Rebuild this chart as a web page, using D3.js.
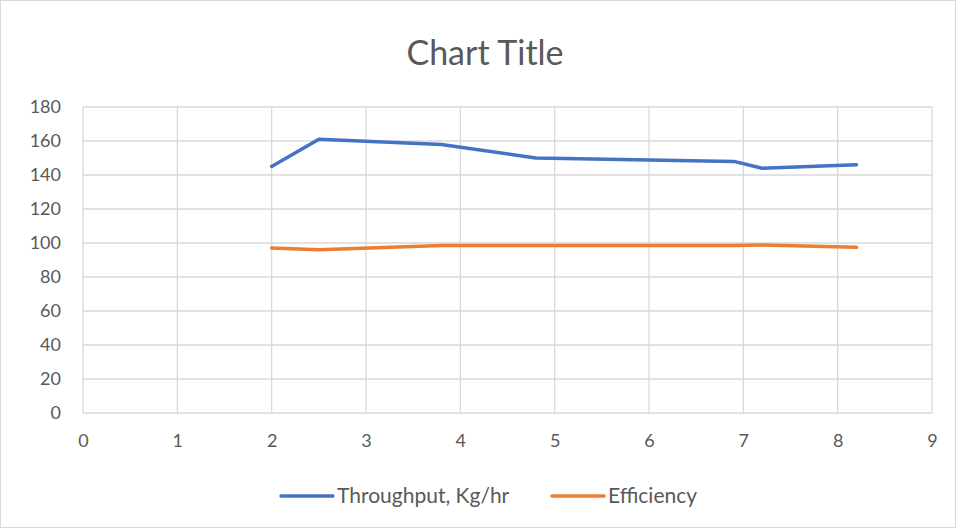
<!DOCTYPE html>
<html><head><meta charset="utf-8">
<script src="https://cdn.jsdelivr.net/npm/d3@7/dist/d3.min.js"></script>
<style>html,body{margin:0;padding:0;background:#fff;}svg{display:block;}</style>
</head><body>
<svg id="c" width="957" height="530"></svg>
<script>
const xValues = [2, 2.5, 3.8, 4.8, 6.9, 7.2, 8.2];
const throughput = [145, 161, 158, 150, 148, 144, 146];
const efficiency = [97, 96, 98.5, 98.5, 98.6, 98.8, 97.5];
const xTicks = [0,1,2,3,4,5,6,7,8,9];
const yTicks = [0,20,40,60,80,100,120,140,160,180];
const seriesNames = ["Throughput, Kg/hr", "Efficiency"];
const colors = ["#4472C4", "#ED7D31"];

const svg = d3.select("#c");
const font = "Lato, 'Open Sans', sans-serif";
svg.append("rect").attr("x",0.5).attr("y",0.5).attr("width",955).attr("height",527)
  .attr("fill","#fff").attr("stroke","#d9d9d9");

const x = d3.scaleLinear().domain([0,9]).range([83,932]);
const y = d3.scaleLinear().domain([0,180]).range([413,107]);

const g = svg.append("g");
g.selectAll(".vg").data(xTicks).join("line")
  .attr("x1",d=>x(d)).attr("x2",d=>x(d)).attr("y1",y(0)).attr("y2",y(180))
  .attr("stroke","#d9d9d9").attr("stroke-width",1.3);
g.selectAll(".hg").data(yTicks).join("line")
  .attr("x1",x(0)).attr("x2",x(9)).attr("y1",d=>y(d)).attr("y2",d=>y(d))
  .attr("stroke","#d9d9d9").attr("stroke-width",1.3);

const xAxis = d3.axisBottom(x).tickValues(xTicks).tickSize(0).tickPadding(21);
const yAxis = d3.axisLeft(y).tickValues(yTicks).tickSize(0).tickPadding(22);
const xa = svg.append("g").attr("transform",`translate(0,${y(0)})`).call(xAxis);
const ya = svg.append("g").attr("transform",`translate(${x(0)},0)`).call(yAxis);
[xa,ya].forEach(a=>{
  a.select(".domain").remove();
  a.selectAll("text").attr("fill","#595959").style("font-family",font).style("font-size","18px");
});

const line = d3.line().x((d,i)=>x(xValues[i])).y(d=>y(d));
[throughput, efficiency].forEach((s,k)=>{
  svg.append("path").datum(s).attr("d",line).attr("fill","none")
    .attr("stroke",colors[k]).attr("stroke-width",3.5).attr("stroke-linejoin","round").attr("stroke-linecap","round");
});

svg.append("text").attr("x",485).attr("y",65).attr("text-anchor","middle")
  .attr("fill","#595959").style("font-family",font).style("font-size","34px").text("Chart Title");

const legX = [281, 552];
seriesNames.forEach((n,k)=>{
  svg.append("line").attr("x1",legX[k]).attr("x2",legX[k]+52).attr("y1",496).attr("y2",496)
    .attr("stroke",colors[k]).attr("stroke-width",3.5).attr("stroke-linecap","round");
  svg.append("text").attr("x",legX[k]+56).attr("y",503).attr("fill","#595959")
    .style("font-family",font).style("font-size","21px").text(n);
});
</script>
</body></html>
